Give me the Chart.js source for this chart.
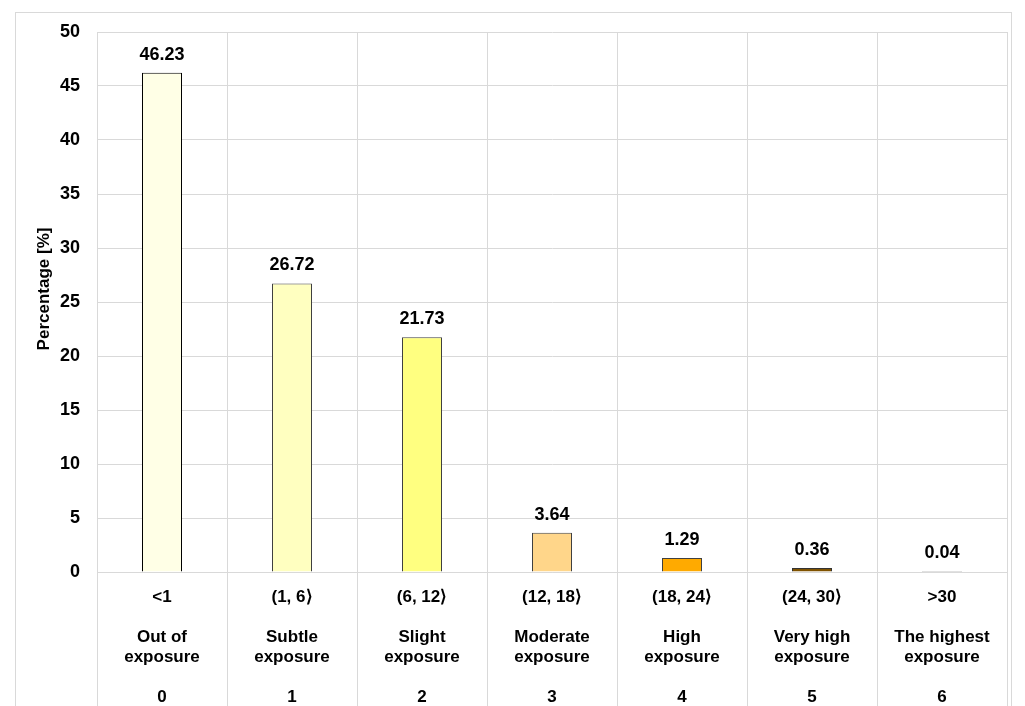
<!DOCTYPE html>
<html>
<head>
<meta charset="utf-8">
<script src="https://cdn.jsdelivr.net/npm/chart.js@4"></script>
<style>
  body { margin: 0; background: #fff; }
  #wrap { width: 1025px; height: 706px; position: relative; }
</style>
</head>
<body>
<div id="wrap"><canvas id="myChart"></canvas></div>
<script>
var ranges = ['<1', '(1, 6\u27E9', '(6, 12\u27E9', '(12, 18\u27E9', '(18, 24\u27E9', '(24, 30\u27E9', '>30'];
var names = [['Out of', 'exposure'], ['Subtle', 'exposure'], ['Slight', 'exposure'], ['Moderate', 'exposure'],
             ['High', 'exposure'], ['Very high', 'exposure'], ['The highest', 'exposure']];
var levels = ['0', '1', '2', '3', '4', '5', '6'];
var percentages = [46.23, 26.72, 21.73, 3.64, 1.29, 0.36, 0.04];
var barColors = ['#FFFFE6', '#FFFFC0', '#FFFF80', '#FFD68A', '#FFAA00', '#7F5200', '#7F7F7F'];
var edgeColors = ['#000000', '#404040', '#404040', '#404040', '#404040', '#333333', '#7F7F7F'];
var yTitle = 'Percentage [%]';

var FONT = "'Liberation Sans', Arial, sans-serif";
var GRID = '#d9d9d9';

// one label per category: range, blank, name (2 lines), blank, level
var labels = ranges.map(function (r, i) {
  return [r, ''].concat(names[i]).concat(['', levels[i]]);
});

var frame = {
  id: 'frame',
  beforeDraw: function (chart) {
    var c = chart.ctx;
    c.save();
    c.strokeStyle = GRID;
    c.lineWidth = 1;
    c.strokeRect(15.5, 12.5, 996, 800);
    // y axis title, sits a bit above the middle of the plot
    c.translate(44, 289);
    c.rotate(-Math.PI / 2);
    c.font = 'bold 17px ' + FONT;
    c.fillStyle = '#000';
    c.textAlign = 'center';
    c.textBaseline = 'middle';
    c.fillText(yTitle, 0, 0);
    c.restore();
  }
};

var valueLabels = {
  id: 'valueLabels',
  afterDatasetsDraw: function (chart) {
    var c = chart.ctx;
    var meta = chart.getDatasetMeta(0);
    c.save();
    c.font = 'bold 18px ' + FONT;
    c.fillStyle = '#000';
    c.textAlign = 'center';
    c.textBaseline = 'middle';
    meta.data.forEach(function (bar, i) {
      c.fillText(percentages[i].toFixed(2), bar.x, bar.y - 18);
    });
    c.restore();
  }
};

var ctx = document.getElementById('myChart').getContext('2d');
var myChart = new Chart(ctx, {
  type: 'bar',
  data: {
    labels: labels,
    datasets: [{
      data: percentages,
      backgroundColor: barColors,
      borderColor: edgeColors,
      borderWidth: 1,
      minBarLength: 1,
      categoryPercentage: 1,
      barPercentage: 40 / 130
    }]
  },
  options: {
    responsive: true,
    maintainAspectRatio: false,
    animation: false,
    layout: { padding: { top: 32, right: 18, left: 0, bottom: 0 } },
    plugins: {
      legend: { display: false },
      tooltip: { enabled: false }
    },
    scales: {
      x: {
        grid: { color: GRID, tickLength: 134, offset: true },
        border: { color: GRID },
        ticks: {
          autoSkip: false,
          maxRotation: 0,
          padding: -119,
          color: '#000',
          font: { family: FONT, size: 17, weight: 'bold', lineHeight: 20 / 17 }
        },
        afterFit: function (scale) { scale.height = 134; }
      },
      y: {
        min: 0,
        max: 50,
        grid: { color: GRID, drawTicks: false },
        border: { color: GRID },
        ticks: {
          stepSize: 5,
          padding: 17,
          color: '#000',
          font: { family: FONT, size: 18, weight: 'bold' }
        },
        afterFit: function (scale) { scale.width = 97; }
      }
    }
  },
  plugins: [frame, valueLabels]
});
</script>
</body>
</html>
